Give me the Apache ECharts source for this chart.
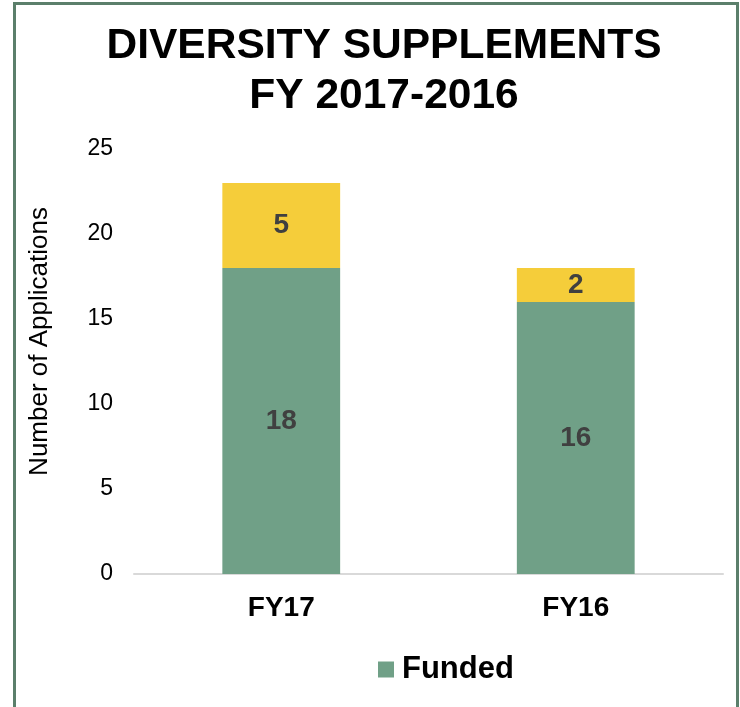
<!DOCTYPE html>
<html>
<head>
<meta charset="utf-8">
<script src="https://cdn.jsdelivr.net/npm/echarts@6/dist/echarts.min.js"></script>
<style>
    html, body { margin: 0; padding: 0; background: #fff; }
    #container { width: 740px; height: 707px; }
</style>
</head>
<body>
<div id="container"></div>
<script>
var categories = ['FY17', 'FY16'];
var funded = [18, 16];
var notFunded = [5, 2];
var yTicks = [0, 5, 10, 15, 20, 25];

var dom = document.getElementById("container");
var myChart = echarts.init(dom);

var labelStyle = {
    show: true,
    position: 'inside',
    color: '#404040',
    fontSize: 28,
    fontWeight: 'bold',
    fontFamily: 'Liberation Sans, Arial, sans-serif'
};

var option = {
    animation: false,
    textStyle: { fontFamily: 'Liberation Sans, Arial, sans-serif' },
    graphic: [{
        type: 'rect',
        shape: { x: 14.5, y: 3.5, width: 723, height: 730 },
        style: { fill: 'none', stroke: '#5b7f6b', lineWidth: 3 },
        silent: true
    }],
    title: {
        text: 'DIVERSITY SUPPLEMENTS\nFY 2017-2016',
        left: 379,
        top: 16,
        textAlign: 'center',
        textStyle: {
            fontSize: 42.5,
            fontWeight: 'bold',
            color: '#000',
            lineHeight: 50
        }
    },
    legend: {
        data: ['Funded'],
        left: 373,
        top: 649,
        icon: 'rect',
        itemWidth: 16,
        itemHeight: 16,
        itemGap: 10,
        textStyle: { fontSize: 31, fontWeight: 'bold', color: '#000', padding: [0, 0, 0, 3] }
    },
    grid: {
        left: 134,
        right: 17,
        top: 149,
        bottom: 133
    },
    xAxis: {
        type: 'category',
        data: categories,
        axisLine: { lineStyle: { color: '#d9d9d9', width: 2 } },
        axisTick: { show: false },
        axisLabel: { fontSize: 28, fontWeight: 'bold', color: '#000', margin: 20 }
    },
    yAxis: {
        type: 'value',
        min: 0,
        max: yTicks[yTicks.length - 1],
        interval: 5,
        name: 'Number of Applications',
        nameLocation: 'middle',
        nameGap: 81,
        nameTextStyle: { fontSize: 26, color: '#000', padding: [0, 0, 0, 40] },
        axisLine: { show: false },
        axisTick: { show: false },
        splitLine: { show: false },
        axisLabel: { fontSize: 23, color: '#000', margin: 21 }
    },
    series: [
        {
            name: 'Funded',
            type: 'bar',
            stack: 'total',
            barWidth: '40%',
            data: funded,
            itemStyle: { color: '#70a087' },
            label: labelStyle
        },
        {
            name: 'Not Funded',
            type: 'bar',
            stack: 'total',
            barWidth: '40%',
            data: notFunded,
            itemStyle: { color: '#f5cd3a' },
            label: labelStyle
        }
    ]
};

myChart.setOption(option, true);
</script>
</body>
</html>
